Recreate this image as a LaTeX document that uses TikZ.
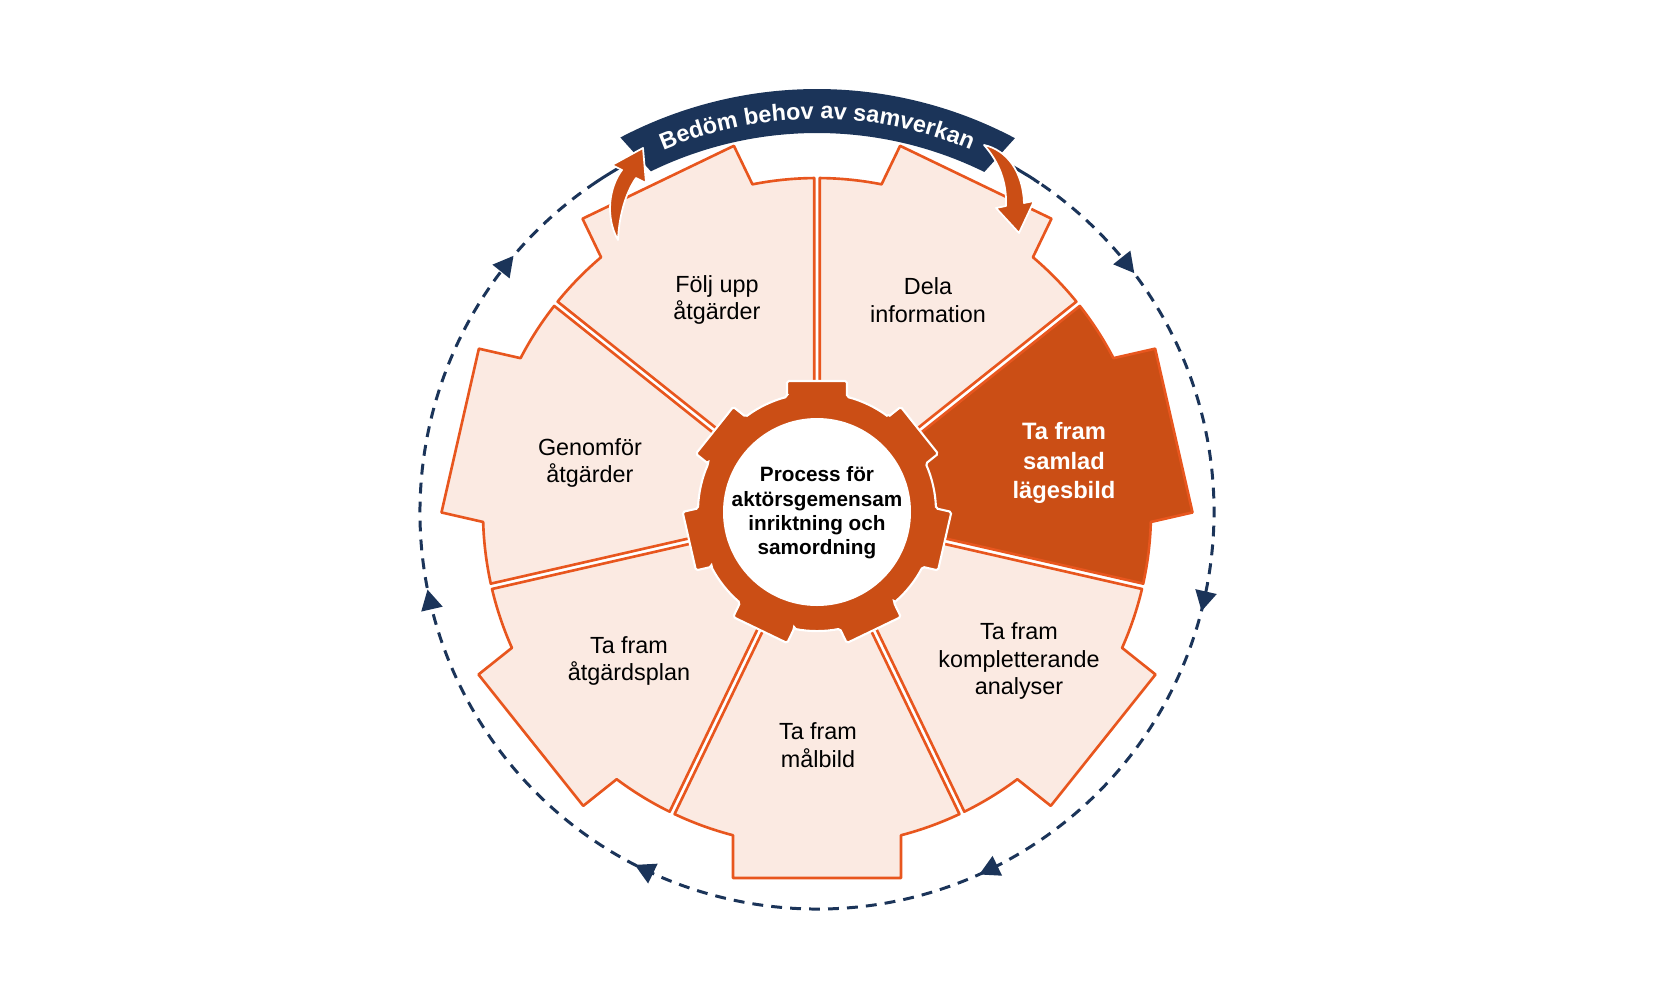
\documentclass[tikz,border=0pt]{standalone}
\usepackage{fontspec}
\setmainfont{Liberation Sans}
\usetikzlibrary{decorations.text}
\definecolor{segfill}{HTML}{FBEAE2}
\definecolor{segline}{HTML}{E8561E}
\definecolor{gearfill}{HTML}{CB4E15}
\definecolor{navy}{HTML}{1B3459}
\newcommand{\segR}{334}
\newcommand{\hw}{25.7143}
\newcommand{\tabT}{366}
\newcommand{\tabW}{84}
\tikzset{
    seg style/.style={draw=segline,line width=1.5pt,line join=round},
    gear style/.style={fill=gearfill,draw=white,line width=1.2pt,rounded corners=1pt},
    seg label/.style={align=center,font=\fontsize{13.3}{15.7}\selectfont},
    dark label/.style={align=center,text=white,font=\fontsize{13.5}{17}\selectfont\bfseries},
    hub label/.style={align=center,font=\fontsize{11.8}{13.9}\selectfont\bfseries},
    loop style/.style={draw=navy,line width=1.7pt,dash pattern=on 6.2pt off 4.6pt},
    turn arrow/.style={fill=gearfill,draw=white,line width=1pt,line join=round},
}

\begin{document}
\begin{tikzpicture}[x=0.02cm,y=0.02cm]
   \useasboundingbox (-817,-486) rectangle (855,512);
   % the seven steps
   \foreach \c/\fc in {64.2857/segfill,12.8571/gearfill,-38.5714/segfill,-90/segfill,-141.4286/segfill,167.1429/segfill,115.7143/segfill}
     \draw[seg style,fill=\fc,rotate=\c] (-\hw+1.58:100) -- (-\hw+0.47:\segR)
        arc[start angle=-\hw+0.47,end angle=-14.57,radius=\segR]
        -- (\tabT,-\tabW) -- (\tabT,\tabW) -- (14.57:\segR)
        arc[start angle=14.57,end angle=\hw-0.47,radius=\segR]
        -- (\hw-1.58:100) -- cycle;

   % hub
   \path[gear style] (104.6:119) \foreach \k in {0,...,6} {
        -- ({90-\k*51.4286+14.6}:119) -- ({90-\k*51.4286+12.9}:134.4)
        -- ({90-\k*51.4286-12.9}:134.4) -- ({90-\k*51.4286-14.6}:119)
        arc[start angle={90-\k*51.4286-14.6},end angle={90-(\k+1)*51.4286+14.6},radius=119] } -- cycle;
   \fill[white] (0,0) circle[radius=94];
   \node[hub label] (hub) at (0,-1) {Process för\\aktörsgemensam\\inriktning och\\samordning};

   \node[seg label] (foljupp) at (-100,212) {Följ upp\\åtgärder};
   \node[seg label] (dela) at (111,212) {Dela\\information};
   \node[dark label] (samlad) at (247,49) {Ta fram\\samlad\\lägesbild};
   \node[seg label] (komplett) at (202,-149) {Ta fram\\kompletterande\\analyser};
   \node[seg label] (malbild) at (1,-233) {Ta fram\\målbild};
   \node[seg label] (plan) at (-188,-149) {Ta fram\\åtgärdsplan};
   \node[seg label] (genomfor) at (-227,49) {Genomför\\åtgärder};

   % dashed loop
   \draw[loop style] (124:397) arc[start angle=124,end angle=-304,radius=397];
   \foreach \a in {141.43,38.57,-12.86,-64.29,-115.71,-167.14}
     \fill[navy,shift={(\a:397)},rotate=\a-90] (11,0) -- (-9,11) -- (-9,-11) -- cycle;

   % banner
   \fill[navy] (116:379) arc[start angle=116,end angle=63.8,radius=379]
        -- (62.1:423) arc[start angle=62.1,end angle=117.7,radius=423] -- cycle;
   \path[decorate,decoration={text along path,text align=center,text color=white,
        text={|\fontsize{13.3}{16}\selectfont\bfseries|Bedöm behov av samverkan}}]
        (117:393) arc[start angle=117,end angle=63,radius=393];

   \path[turn arrow] (-199,272) .. controls (-212,295) and (-208,325) .. (-195,342)
        -- (-205,347) -- (-174,364) -- (-171,329) -- (-181,334)
        .. controls (-192,318) and (-198,295) .. (-199,272) -- cycle;
   \path[turn arrow] (167,367) .. controls (190,362) and (206,340) .. (207,309)
        -- (217,311) -- (202,279) -- (179,304) -- (189,306)
        .. controls (190,330) and (182,350) .. (167,367) -- cycle;
\end{tikzpicture}
\end{document}
